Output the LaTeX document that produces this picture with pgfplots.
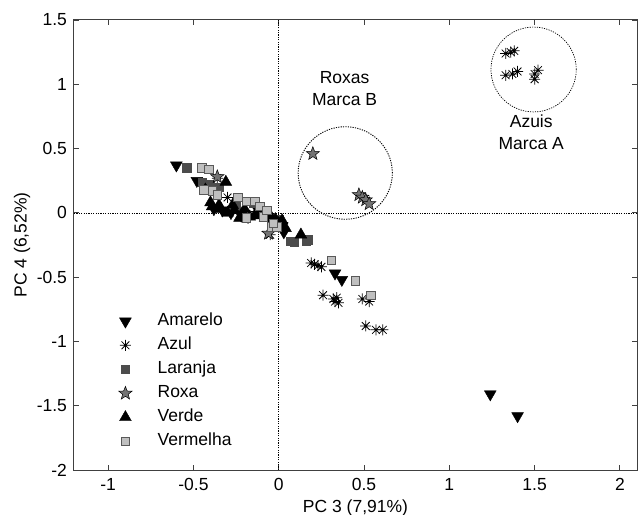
\documentclass[border=0pt]{standalone}
\usepackage{pgfplots}
\pgfplotsset{compat=1.18}
\usepackage{fontspec}
\setmainfont{Liberation Sans}
\newcommand{\ff}{\fontsize{17.5bp}{22bp}\selectfont}
\pgfdeclareplotmark{ast8}{%
  \pgfpathmoveto{\pgfqpoint{-\pgfplotmarksize}{0pt}}\pgfpathlineto{\pgfqpoint{\pgfplotmarksize}{0pt}}%
  \pgfpathmoveto{\pgfqpoint{0pt}{-\pgfplotmarksize}}\pgfpathlineto{\pgfqpoint{0pt}{\pgfplotmarksize}}%
  \pgfpathmoveto{\pgfqpoint{-0.707\pgfplotmarksize}{-0.707\pgfplotmarksize}}\pgfpathlineto{\pgfqpoint{0.707\pgfplotmarksize}{0.707\pgfplotmarksize}}%
  \pgfpathmoveto{\pgfqpoint{-0.707\pgfplotmarksize}{0.707\pgfplotmarksize}}\pgfpathlineto{\pgfqpoint{0.707\pgfplotmarksize}{-0.707\pgfplotmarksize}}%
  \pgfusepathqstroke}
\pgfdeclareplotmark{fstar}{%
  \pgfpathmoveto{\pgfpointpolar{90}{\pgfplotmarksize}}%
  \pgfpathlineto{\pgfpointpolar{126}{0.42\pgfplotmarksize}}%
  \pgfpathlineto{\pgfpointpolar{162}{\pgfplotmarksize}}%
  \pgfpathlineto{\pgfpointpolar{198}{0.42\pgfplotmarksize}}%
  \pgfpathlineto{\pgfpointpolar{234}{\pgfplotmarksize}}%
  \pgfpathlineto{\pgfpointpolar{270}{0.42\pgfplotmarksize}}%
  \pgfpathlineto{\pgfpointpolar{306}{\pgfplotmarksize}}%
  \pgfpathlineto{\pgfpointpolar{342}{0.42\pgfplotmarksize}}%
  \pgfpathlineto{\pgfpointpolar{18}{\pgfplotmarksize}}%
  \pgfpathlineto{\pgfpointpolar{54}{0.42\pgfplotmarksize}}%
  \pgfpathclose\pgfusepathqfillstroke}
\begin{document}
\ff
\begin{tikzpicture}
\path[use as bounding box] (-74bp,-45bp) rectangle (566bp,470bp);
\begin{axis}[
  at={(0,0)}, anchor=south west,
  scale only axis, width=563bp, height=450bp,
  xmin=-1.2, xmax=2.1, ymin=-2, ymax=1.5,
  xtick={-1,-0.5,0,0.5,1,1.5,2},
  ytick={-2,-1.5,-1,-0.5,0,0.5,1,1.5},
  /pgf/number format/assume math mode=true,
  tick label style={font=\ff},
  xticklabel style={yshift=-2bp},
  yticklabel style={xshift=-1bp},
  tick align=inside,
  major tick length=5bp,
  every tick/.style={black!75, line width=0.9bp},
  axis line style={black!75, line width=1bp},
  xlabel={PC 3 (7,91\%)},
  ylabel={PC 4 (6,52\%)},
  label style={font=\ff},
  xlabel style={at={(axis description cs:0.5,0)}, anchor=center, yshift=-38bp},
  ylabel style={at={(axis description cs:-0.0924,0.5)}, anchor=center},
  legend style={draw=none, fill=none, font=\ff,
    at={(axis description cs:0.0711,0.353)}, anchor=north west,
    nodes={inner sep=0pt, text height=12.5bp, text depth=3.5bp},
    row sep=8bp,
    /tikz/every odd column/.append style={column sep=24bp}},
  legend cell align=left,
  legend image code/.code={\path (-8bp,0bp) (8bp,0bp); \draw[#1] plot coordinates {(0bp,0bp)};},
]
\addplot[forget plot, black, line width=0.7bp, dash pattern=on 1.2bp off 1.2bp] coordinates {(0,-2) (0,1.5)};
\addplot[forget plot, black, line width=0.7bp, dash pattern=on 1.2bp off 1.2bp] coordinates {(-1.2,0) (2.1,0)};

% Amarelo
\addplot[only marks, mark=triangle*, mark size=6.8bp, mark options={rotate=180, fill=black, draw=black}] coordinates {
(-0.60,0.37) (-0.48,0.25) (-0.42,0.20) (-0.38,0.03) (-0.33,0.02) (-0.28,0.00) (-0.22,-0.02)
(-0.18,-0.03) (-0.12,0.02) (-0.05,-0.05) (0.00,-0.10) (0.02,-0.10) (0.03,-0.15) (0.33,-0.47) (0.37,-0.52)
(1.24,-1.41) (1.40,-1.58)};
\addlegendentry{Amarelo}
% Azul
\addplot[only marks, mark=ast8, mark size=5.5bp, mark options={draw=black, line width=0.75bp}] coordinates {
(1.33,1.24) (1.36,1.25) (1.38,1.26)
(1.33,1.07) (1.37,1.08) (1.40,1.10)
(1.50,1.08) (1.52,1.11) (1.50,1.04)
(0.19,-0.39) (0.21,-0.40) (0.23,-0.41) (0.25,-0.42)
(0.26,-0.64) (0.32,-0.67) (0.34,-0.66) (0.35,-0.70) (0.33,-0.69)
(0.49,-0.67) (0.53,-0.69) (0.51,-0.88) (0.57,-0.91) (0.61,-0.91)
(-0.36,0.27) (-0.30,0.12) (-0.13,0.01) (-0.05,-0.17)};
\addlegendentry{Azul}
% Laranja
\addplot[only marks, mark=square*, mark size=4.2bp, mark options={fill=black!70, draw=black!70}] coordinates {
(-0.54,0.35) (-0.45,0.24) (-0.40,0.22) (-0.35,0.20) (-0.25,0.05) (-0.15,0.08)
(-0.08,0.00) (0.00,-0.05) (0.07,-0.22) (0.09,-0.23) (0.16,-0.22) (0.17,-0.21)};
\addlegendentry{Laranja}
% Roxa
\addplot[only marks, mark=fstar, mark size=7bp, mark options={fill=black!55, draw=black, line width=0.5bp}] coordinates {
(0.20,0.46) (0.47,0.14) (0.49,0.12) (0.51,0.10) (0.53,0.07) (-0.36,0.28) (-0.06,-0.16)};
\addlegendentry{Roxa}
% Verde
\addplot[only marks, mark=triangle*, mark size=6.8bp, mark options={fill=black, draw=black}] coordinates {
(-0.31,0.24) (-0.43,0.18) (-0.40,0.08) (-0.39,0.05) (-0.35,0.06) (-0.34,0.03) (-0.30,0.00)
(-0.26,0.02) (-0.23,-0.04) (-0.17,-0.03) (-0.14,-0.02) (-0.10,0.00) (-0.08,-0.04)
(-0.05,-0.02) (-0.02,-0.05) (-0.02,-0.08) (0.00,-0.08) (0.02,-0.06) (0.13,-0.17)
(-0.20,0.03) (-0.27,0.06) (0.04,-0.12)};
\addlegendentry{Verde}
% Vermelha
\addplot[only marks, mark=square*, mark size=4.2bp, mark options={fill=black!25, draw=black!65, line width=0.7bp}] coordinates {
(-0.45,0.35) (-0.41,0.34) (-0.44,0.18) (-0.39,0.17) (-0.36,0.14) (-0.24,0.12)
(-0.19,0.09) (-0.14,0.09) (-0.11,0.05) (-0.19,-0.04) (-0.09,-0.03) (-0.04,-0.11)
(-0.01,-0.11) (0.31,-0.37) (0.45,-0.53) (0.54,-0.64) (-0.07,0.02) (-0.03,-0.08)};
\addlegendentry{Vermelha}

\draw[black, line width=0.9bp, dash pattern=on 1.2bp off 1.2bp] (axis cs:0.39,0.31) ellipse [x radius=0.276, y radius=0.36];
\draw[black, line width=0.7bp, dash pattern=on 1.2bp off 1.2bp] (axis cs:1.494,1.115) ellipse [x radius=0.25, y radius=0.33];
\node[align=center, font=\ff] at (axis cs:0.386,0.965) {Roxas\\Marca B};
\node[align=center, font=\ff] at (axis cs:1.48,0.624) {Azuis\\Marca A};
\end{axis}
\end{tikzpicture}
\end{document}
